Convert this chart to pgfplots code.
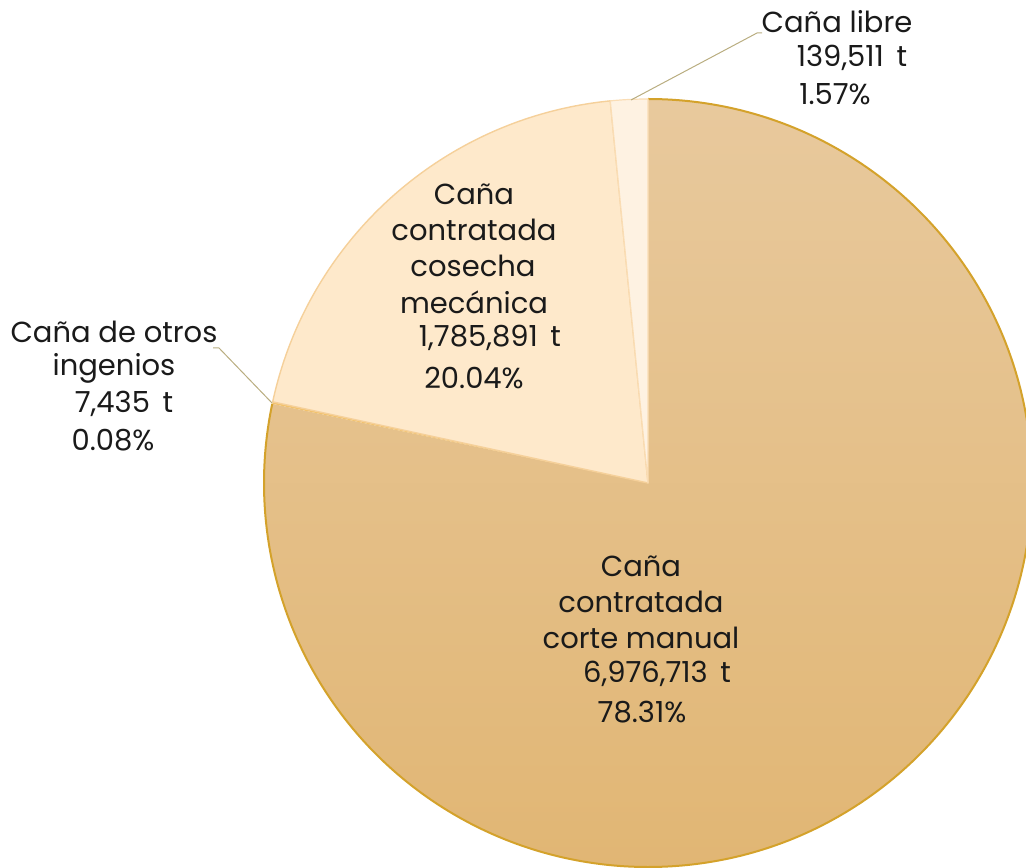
\documentclass[border=0pt]{standalone}
\usepackage{pgfplots}
\pgfplotsset{compat=1.18}
\usepackage{pgfplotstable}
\usepackage{fontspec}
\setmainfont{Poppins}
\definecolor{txt}{HTML}{1A1A1A}
\definecolor{manTop}{HTML}{E8C99D}
\definecolor{manBot}{HTML}{E1B674}
\definecolor{gold}{HTML}{D4A22B}
\definecolor{mecFill}{HTML}{FEE9CB}
\definecolor{mecLine}{HTML}{F5D09A}
\definecolor{libFill}{HTML}{FEF2E2}
\definecolor{libLine}{HTML}{FADDB5}
\definecolor{otrLine}{HTML}{F2C26C}
\definecolor{leader}{HTML}{B9AD80}

\pgfplotstableread{
cat tonnes
manual 6976713
otros 7435
mecanica 1785891
libre 139511
}\piedata

\pgfplotstablegetelem{0}{tonnes}\of\piedata \edef\tA{\pgfplotsretval}
\pgfplotstablegetelem{1}{tonnes}\of\piedata \edef\tB{\pgfplotsretval}
\pgfplotstablegetelem{2}{tonnes}\of\piedata \edef\tC{\pgfplotsretval}
\pgfplotstablegetelem{3}{tonnes}\of\piedata \edef\tD{\pgfplotsretval}
\edef\tot{\fpeval{\tA+\tB+\tC+\tD}}
\edef\aO{90}
\edef\aA{\fpeval{round(90-360*\tA/\tot,4)}}
\edef\aB{\fpeval{round(\aA-360*\tB/\tot,4)}}
\edef\aC{\fpeval{round(\aB-360*\tC/\tot,4)}}
\edef\aD{-270}

% pie centre and radius in cm (1 axis unit = 1 cm)
\def\cx{11.387}
\def\cy{6.748}
\def\R{6.748}

\newcommand\slicepath[2]{(axis cs:\cx,\cy) -- (axis cs:{\cx+\R*cos(#1)},{\cy+\R*sin(#1)}) arc[start angle=#1, end angle=#2, radius=\R] -- cycle}

\begin{document}
\begin{tikzpicture}
\begin{axis}[
  at={(0,0)}, anchor=south west,
  x=1cm, y=1cm,
  xmin=0, xmax=18.03, ymin=0, ymax=15.235,
  hide axis, clip=false,
]
\addplot[draw=none, forget plot] coordinates {(\cx,\cy)};
% corte manual
\shade[top color=manTop, bottom color=manBot] \slicepath{\aO}{\aA};
\draw[gold, line width=1pt] (axis cs:{\cx+\R*cos(\aO)},{\cy+\R*sin(\aO)}) arc[start angle=\aO, end angle=\aA, radius=\R];
% otros ingenios
\fill[otrLine] \slicepath{\aA}{\aB};
% cosecha mecanica
\filldraw[fill=mecFill, draw=mecLine, line width=0.7pt, line join=round] \slicepath{\aB}{\aC};
% libre
\filldraw[fill=libFill, draw=libLine, line width=0.6pt, line join=round] \slicepath{\aC}{\aD};
\end{axis}

\begin{scope}[shift={(0pt,433.5pt)}, x=0.5pt, y=-0.5pt]
\draw[leader, line width=0.5pt] (631,100) -- (757,33) -- (762,33);
\draw[leader, line width=0.5pt] (213,348) -- (219,348) -- (272,403);
\begin{scope}[every node/.style={text=txt, font=\fontsize{14.5}{17}\selectfont, inner sep=0pt}]
\node at (837,22) {Caña libre};
\node at (852,58) {139,511\, t};
\node at (835,94) {1.57\%};
\node at (114,332) {Caña de otros};
\node at (114,368) {ingenios};
\node at (124,404) {7,435\, t};
\node at (113,440) {0.08\%};
\node at (474,194) {Caña};
\node at (474,230) {contratada};
\node at (473,266) {cosecha};
\node at (474,302) {mecánica};
\node at (490,338) {1,785,891\, t};
\node at (474,378) {20.04\%};
\node at (641,566) {Caña};
\node at (641,602) {contratada};
\node at (641,638) {corte manual};
\node at (657,674) {6,976,713\, t};
\node at (642,712) {78.31\%};
\end{scope}
\end{scope}
\pgfresetboundingbox
\path (0,0) rectangle (513pt,433.5pt);
\end{tikzpicture}
\end{document}
